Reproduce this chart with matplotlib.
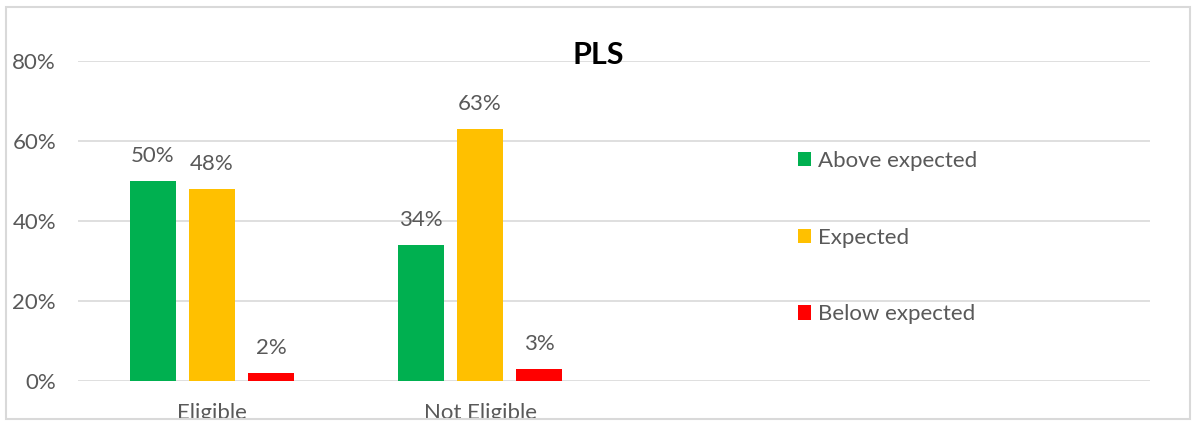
import matplotlib
matplotlib.use('Agg')
import matplotlib.pyplot as plt
from matplotlib.patches import Patch, Rectangle
import numpy as np

# data
categories = ['Eligible', 'Not Eligible']
series_names = ['Above expected', 'Expected', 'Below expected']
above_expected = [0.50, 0.34]
expected = [0.48, 0.63]
below_expected = [0.02, 0.03]
series_colors = ['#00B050', '#FFC000', '#FF0000']
y_ticks = [0.0, 0.2, 0.4, 0.6, 0.8]

plt.rcParams['font.family'] = ['Lato', 'DejaVu Sans']
text_grey = '#595959'
grid_grey = '#D9D9D9'
fs = 16

fig = plt.figure(figsize=(11.97, 4.23), dpi=100)
ax = fig.add_axes([78 / 1197, 1 - 381 / 423, (1150 - 78) / 1197, 320 / 423])

x = np.arange(len(categories))
width = 0.175
step = 0.22
all_series = [above_expected, expected, below_expected]
for i, (vals, name, col) in enumerate(zip(all_series, series_names, series_colors)):
    pos = x + (i - 1) * step
    bars = ax.bar(pos, vals, width=width, color=col, label=name, zorder=3)
    for rect, v in zip(bars, vals):
        ax.annotate(f'{v:.0%}', (rect.get_x() + rect.get_width() / 2, v),
                    xytext=(0, 11), textcoords='offset points',
                    ha='center', va='bottom', fontsize=fs, color=text_grey)

# Excel layout leaves room for four category slots
ax.set_xlim(-0.5, 3.5)
ax.set_ylim(0, 0.8)
ax.set_yticks(y_ticks)
ax.set_yticklabels([f'{t:.0%}' for t in y_ticks])
ax.set_xticks(x)
ax.set_xticklabels(categories)
ax.tick_params(axis='both', length=0, labelsize=fs, labelcolor=text_grey)
ax.tick_params(axis='x', pad=16)
ax.tick_params(axis='y', pad=15.8)
ax.grid(axis='y', color=grid_grey, linewidth=1.2, zorder=0)
for s in ax.spines.values():
    s.set_visible(False)

fig.text(0.5, 1 - 55 / 423, 'PLS', ha='center', va='center',
         fontsize=22, fontweight='bold', color='black')

handles = [Patch(facecolor=c, edgecolor='none') for c in series_colors]
fig.legend(handles, series_names, loc='upper left',
           bbox_to_anchor=(778 / 1197, 1 - 131 / 423), frameon=False,
           fontsize=fs, labelcolor=text_grey, handlelength=0.6,
           handleheight=0.6, handletextpad=0.3, labelspacing=2.55)

# white strip below frame, then the chart frame
fig.add_artist(Rectangle((0, 0), 1, 4 / 423, transform=fig.transFigure,
                         facecolor='white', edgecolor='none', zorder=10))
fig.add_artist(Rectangle((6 / 1197, 4 / 423), 1184 / 1197, 412 / 423,
                         transform=fig.transFigure, facecolor='none',
                         edgecolor=grid_grey, linewidth=1.5, zorder=11))

fig.savefig('out.png', dpi=100)
